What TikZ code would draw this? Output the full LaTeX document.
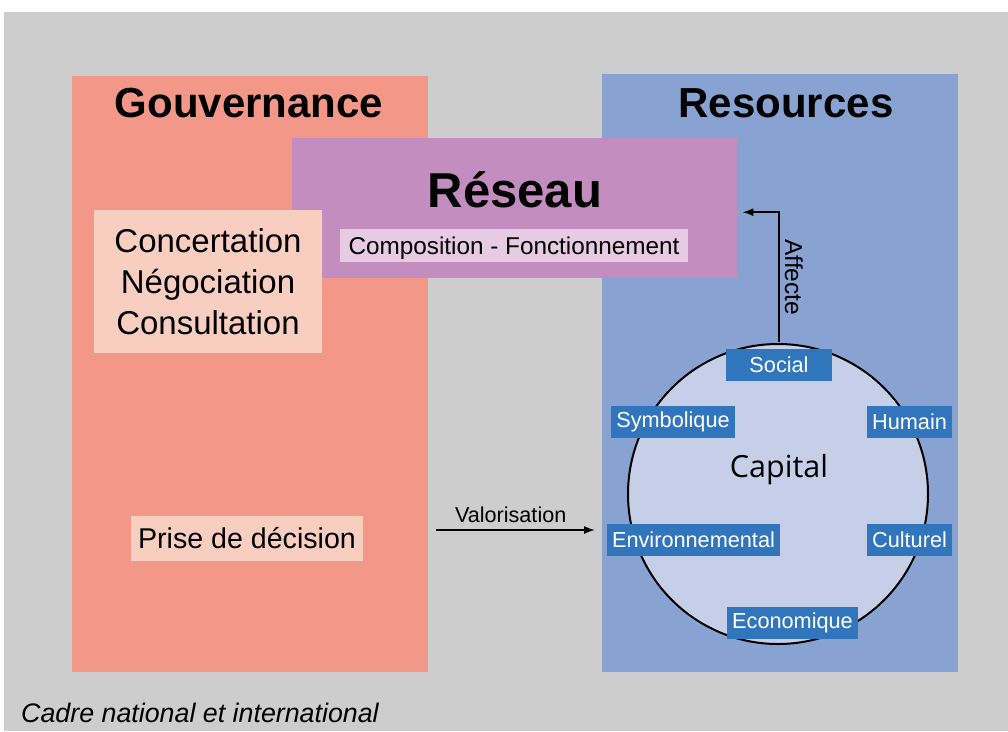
\documentclass[tikz,border=0pt]{standalone}
\usepackage{fontspec}
\setmainfont{Liberation Sans}
\newfontfamily\capfont{Open Sans}
\usetikzlibrary{positioning,arrows.meta}
\definecolor{bggray}{HTML}{CDCDCD}
\definecolor{govred}{HTML}{F39789}
\definecolor{resblue}{HTML}{88A2D1}
\definecolor{netpurple}{HTML}{C38DC0}
\definecolor{palered}{HTML}{F8CEC0}
\definecolor{palepurple}{HTML}{E7CBE3}
\definecolor{tagblue}{HTML}{3176BC}
\definecolor{capfill}{HTML}{C6CFE8}

\begin{document}
\begin{tikzpicture}[
x=1pt, y=-1pt,
panel/.style={fill=#1, inner sep=0pt, anchor=north west},
title/.style={font=\fontsize{42}{48}\selectfont\bfseries, inner sep=0pt, anchor=base},
palebox/.style={fill=#1, inner sep=0pt, align=center},
tag/.style={fill=tagblue, text=white, font=\fontsize{21.7}{26}\selectfont, inner xsep=5pt, inner ysep=0pt, minimum height=32pt},
arrow/.style={-{Latex[length=11pt, width=8pt]}, line width=1.6pt, black},
lbl/.style={font=\fontsize{21.6}{26}\selectfont, inner sep=0pt}
]
\fill[white] (0,0) rectangle (1008,731);
\useasboundingbox (0,0) rectangle (1008,731);
\fill[bggray] (4,12) rectangle (1008,731);

\node[panel=govred, minimum width=356pt, minimum height=596pt] (gov) at (72,76) {};
\node[panel=resblue, minimum width=356pt, minimum height=598pt] (res) at (602,74) {};
\node[panel=netpurple, minimum width=445pt, minimum height=140pt] (reseau) at (292,138) {};

\node[title] (govtitle) at (249,117) {Gouvernance};
\node[title] (restitle) at (786,117) {Resources};
\node[title, font=\fontsize{49}{56}\selectfont\bfseries] (reseautitle) at (515,207) {Réseau};

\node[palebox=palered, minimum width=228pt, minimum height=143pt, font=\fontsize{33}{41}\selectfont] (modes) at (208,281.5) {Concertation\\Négociation\\Consultation};
\node[palebox=palepurple, minimum width=348pt, minimum height=33pt, text depth=0pt, font=\fontsize{24.3}{29}\selectfont] (compo) at (514,245.5) {Composition - Fonctionnement};
\node[palebox=palered, minimum width=232pt, minimum height=45pt, font=\fontsize{28.6}{34}\selectfont] (decision) at (247,538.5) {Prise de décision};

\node[circle, draw=black, line width=2pt, fill=capfill, minimum size=300pt, inner sep=0pt] (capital) at (778,494) {};
\node[font=\capfont\fontsize{30.5}{36}\selectfont, inner sep=0pt] (captext) at (779,470) {Capital};

\node[tag, minimum width=106pt] (social) at (779,364.5) {Social};
\node[tag] (symbo) at (673,421.5) {Symbolique};
\node[tag] (humain) at (909.5,421.5) {Humain};
\node[tag] (envir) at (693.5,539.5) {Environnemental};
\node[tag] (culture) at (909.5,539.5) {Culturel};
\node[tag] (econo) at (792.5,623) {Economique};

\coordinate (valy) at (0,530);
\draw[arrow] ([xshift=8pt]gov.east |- valy) -- node[lbl, above=6pt, xshift=-5pt] (valtext) {Valorisation} ([xshift=-7pt]res.west |- valy);
\draw[arrow] ([yshift=6pt]social.north) |- node[lbl, font=\fontsize{24.5}{29}\selectfont, pos=0.25, rotate=-90, anchor=south, yshift=5pt] (afftext) {Affecte} ([xshift=5pt, yshift=-4pt]reseau.east);

\node[font=\fontsize{26.8}{32}\selectfont\itshape, inner sep=0pt, anchor=base west] (cadre) at (21,722) {Cadre national et international};
\end{tikzpicture}
\end{document}
